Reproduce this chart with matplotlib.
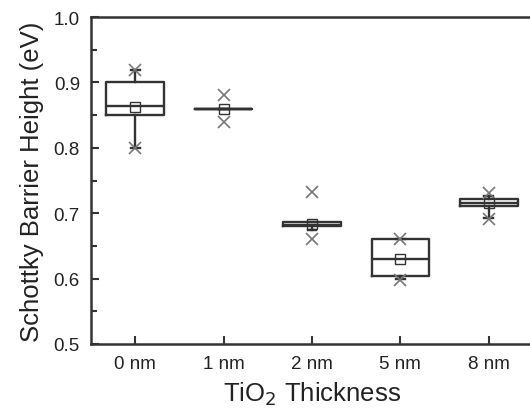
import matplotlib
matplotlib.use('Agg')
import matplotlib.pyplot as plt
from matplotlib.ticker import MultipleLocator

# box plot summary (eV)
labels = ['0 nm', '1 nm', '2 nm', '5 nm', '8 nm']
q1 = [0.850, 0.860, 0.680, 0.604, 0.711]
q3 = [0.901, 0.860, 0.686, 0.660, 0.721]
med = [0.864, 0.860, 0.682, 0.630, 0.715]
mean = [0.862, 0.860, 0.684, 0.630, 0.716]
whislo = [0.800, 0.860, 0.674, 0.600, 0.693]
whishi = [0.919, 0.860, 0.686, 0.660, 0.727]
vmin = [0.800, 0.839, 0.660, 0.598, 0.691]
vmax = [0.919, 0.880, 0.732, 0.660, 0.731]

plt.rcParams['font.family'] = ['Liberation Sans', 'DejaVu Sans']

line_c = '#333333'
text_c = '#222222'
fig = plt.figure(figsize=(5.3, 4.14), dpi=100)
ax = fig.add_axes([91 / 530, 69 / 414, 442 / 530, 327 / 414])

stats = []
for i in range(len(labels)):
    stats.append(dict(label=labels[i], q1=q1[i], q3=q3[i], med=med[i],
                      mean=mean[i], whislo=whislo[i], whishi=whishi[i]))

pos = list(range(1, len(labels) + 1))
lw = 1.7
ax.bxp(stats, positions=pos, widths=0.65, showmeans=True, showfliers=False,
       capwidths=0.1,
       boxprops=dict(color=line_c, linewidth=lw),
       medianprops=dict(color=line_c, linewidth=lw),
       whiskerprops=dict(color=line_c, linewidth=lw),
       capprops=dict(color=line_c, linewidth=lw),
       meanprops=dict(marker='s', markerfacecolor='none',
                      markeredgecolor=line_c, markersize=7,
                      markeredgewidth=1.0))

ax.plot(pos, vmin, linestyle='none', marker='x', color='#777777',
        markersize=9, markeredgewidth=1.2)
ax.plot(pos, vmax, linestyle='none', marker='x', color='#777777',
        markersize=9, markeredgewidth=1.2)

ax.set_xlim(0.5, 5.5)
ax.set_ylim(0.5, 1.0)
ax.set_xticks(pos)
ax.set_xticklabels(labels)
ax.yaxis.set_major_locator(MultipleLocator(0.1))
ax.yaxis.set_minor_locator(MultipleLocator(0.05))
ax.yaxis.set_major_formatter(plt.FormatStrFormatter('%.1f'))
ax.tick_params(axis='both', which='major', direction='in', length=6,
               width=1.5, color=line_c, labelsize=13.5, pad=8,
               labelcolor=text_c)
ax.tick_params(axis='y', which='minor', direction='in', length=4,
               width=1.5, color=line_c)
ax.tick_params(axis='x', which='minor', bottom=False)
for s in ax.spines.values():
    s.set_linewidth(1.8)
    s.set_color(line_c)

ax.set_ylabel('Schottky Barrier Height (eV)', fontsize=18.5, color=text_c,
              labelpad=7)
ax.set_xlabel('TiO$_2$ Thickness', fontsize=18.5, color=text_c, labelpad=5)

fig.savefig('out.png', dpi=100)
